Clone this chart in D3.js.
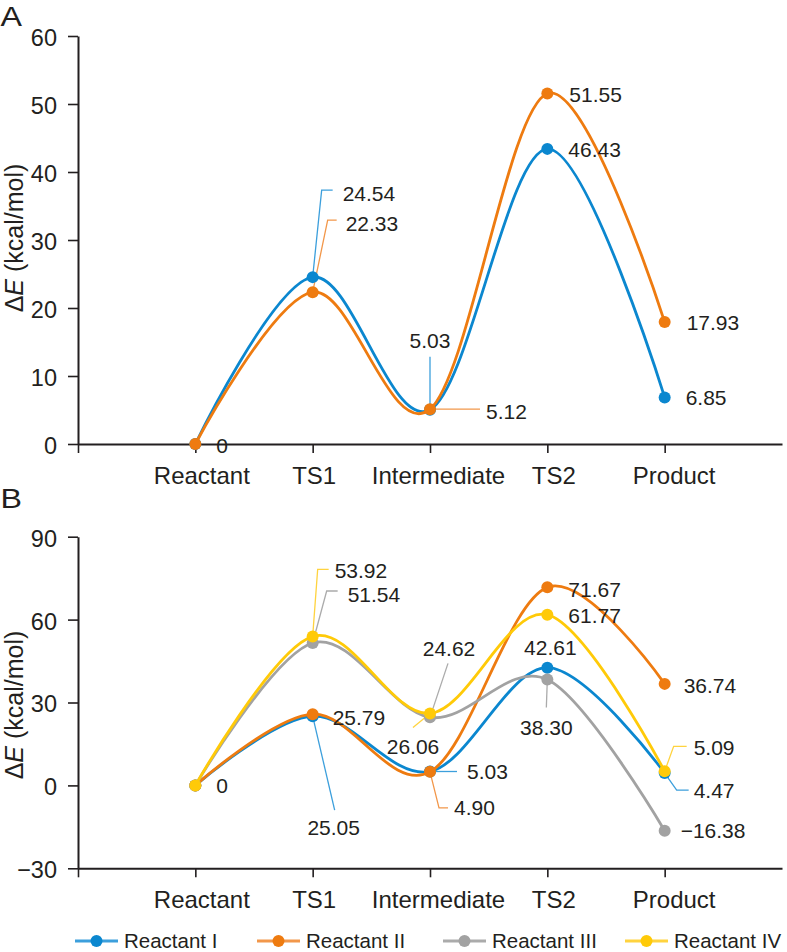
<!DOCTYPE html>
<html><head><meta charset="utf-8">
<script src="https://cdn.jsdelivr.net/npm/d3@7"></script>
<style>
body{margin:0;background:#fff}
svg{display:block}
text{font-family:"Liberation Sans",Arial,Helvetica,sans-serif;fill:#231f20}
</style>
</head><body><svg id="c" width="787" height="952"></svg>
<script>
// ---------- data ----------
const categories = ["Reactant", "TS1", "Intermediate", "TS2", "Product"];
const seriesNames = ["Reactant I", "Reactant II", "Reactant III", "Reactant IV"];

// Panel A (plotted values; printed labels below)
const aReactantI  = [0, 24.54, 5.03, 43.4, 6.85];
const aReactantII = [0, 22.33, 5.12, 51.55, 17.93];
const aLabelsI    = ["", "24.54", "5.03", "46.43", "6.85"];
const aLabelsII   = ["0", "22.33", "5.12", "51.55", "17.93"];

// Panel B
const bReactantI   = [0, 25.05, 5.03, 42.61, 4.47];
const bReactantII  = [0, 25.79, 4.90, 71.67, 36.74];
const bReactantIII = [0, 51.54, 24.62, 38.30, -16.38];
const bReactantIV  = [0, 53.92, 26.06, 61.77, 5.09];
const bLabelsI   = ["", "25.05", "5.03", "42.61", "4.47"];
const bLabelsII  = ["", "25.79", "4.90", "71.67", "36.74"];
const bLabelsIII = ["", "51.54", "24.62", "38.30", "\u221216.38"];
const bLabelsIV  = ["0", "53.92", "26.06", "61.77", "5.09"];

const yTicksA = [0, 10, 20, 30, 40, 50, 60];
const yTicksB = [-30, 0, 30, 60, 90];

// ---------- styles ----------
const colors = ["#0B87CF", "#EE7B10", "#A2A2A2", "#FFCA08"];
const lightColors = ["#3C9FDC", "#F2974A", "#ABABAB", "#FFD33F"];
const catShift = [6, 1, 8, 6, 9];

// annotation layout: offsets (px) relative to the data point
const annA = [
  {s:0, i:1, leader:[[9,-87],[20,-87]], x:30, y:-84, a:"start"},
  {s:1, i:1, leader:[[15,-72],[24,-72]], x:33, y:-69, a:"start"},
  {s:0, i:2, leader:[[0,-53]], x:0, y:-69, a:"middle"},
  {s:1, i:2, leader:[[50,0]], x:56, y:2, a:"start"},
  {s:0, i:3, x:21, y:1, a:"start"},
  {s:1, i:3, x:22, y:1, a:"start"},
  {s:1, i:4, x:22, y:0, a:"start"},
  {s:0, i:4, x:21, y:0, a:"start"},
  {s:1, i:0, x:21, y:1, a:"start"}
];
const annB = [
  {s:3, i:1, leader:[[5,-67],[16,-67]], x:22, y:-66, a:"start"},
  {s:2, i:1, leader:[[14,-52],[25,-52]], x:35, y:-49, a:"start"},
  {s:1, i:1, x:20, y:3, a:"start"},
  {s:0, i:1, leader:[[22,94]], x:21, y:111, a:"middle"},
  {s:2, i:2, leader:[[18,-54]], x:19, y:-69, a:"middle"},
  {s:3, i:2, leader:[[-17,14]], x:-17, y:33, a:"middle"},
  {s:0, i:2, leader:[[27,0]], x:37, y:0, a:"start"},
  {s:1, i:2, leader:[[9,36],[18,36]], x:24, y:36, a:"start"},
  {s:1, i:3, x:21, y:2, a:"start"},
  {s:3, i:3, x:21, y:1, a:"start"},
  {s:0, i:3, x:3, y:-20, a:"middle"},
  {s:2, i:3, leader:[[-1,28]], x:-1, y:48, a:"middle"},
  {s:1, i:4, x:19, y:2, a:"start"},
  {s:3, i:4, leader:[[9,-25],[22,-25]], x:29, y:-24, a:"start"},
  {s:0, i:4, leader:[[12,17],[24,17]], x:29, y:17, a:"start"},
  {s:2, i:4, x:16, y:0, a:"start"},
  {s:3, i:0, x:21, y:0, a:"start"}
];

const panels = [
  {letter:"A", letterBase:26, domain:[0,60], range:[444,36], ticks:yTicksA,
   series:[{v:aReactantI, l:aLabelsI, c:0},{v:aReactantII, l:aLabelsII, c:1}], ann:annA, titleY:238},
  {letter:"B", letterBase:508, domain:[-30,90], range:[868.3,536.7], ticks:yTicksB,
   series:[{v:bReactantI, l:bLabelsI, c:0},{v:bReactantII, l:bLabelsII, c:1},
           {v:bReactantIII, l:bLabelsIII, c:2},{v:bReactantIV, l:bLabelsIV, c:3}], ann:annB, titleY:705}
];

const svg = d3.select("#c");
const x = d3.scaleLinear().domain([0, 6]).range([78, 782]);
const FF = '"Liberation Sans",Arial,sans-serif';

panels.forEach(p => {
  const y = d3.scaleLinear().domain(p.domain).range(p.range);
  const g = svg.append("g");

  // panel letter
  g.append("text").attr("transform", `translate(0.5,${p.letterBase}) scale(1.15,1)`)
    .style("font-size", "28px").text(p.letter);

  // y axis
  const ya = g.append("g").attr("transform", `translate(${x(0)},0)`)
    .call(d3.axisLeft(y).tickValues(p.ticks).tickSize(10).tickSizeOuter(0)
      .tickFormat(d => d < 0 ? "\u2212" + Math.abs(d) : d));
  ya.select(".domain").attr("stroke", "#231f20").attr("stroke-width", 2);
  ya.selectAll(".tick line").attr("stroke", "#231f20").attr("stroke-width", 1.6);
  ya.selectAll(".tick text").attr("x", -21).attr("y", 1).attr("dy", "0.36em")
    .style("font-size", "23.5px").style("font-family", FF).attr("fill", "#231f20");

  // x axis
  const y0 = p.range[0];
  const xa = g.append("g").attr("transform", `translate(0,${y0})`)
    .call(d3.axisBottom(x).tickValues([0,1,2,3,4,5]).tickSize(9).tickSizeOuter(0)
      .tickFormat(d => d === 0 ? "" : categories[d-1]));
  xa.select(".domain").attr("stroke", "#231f20").attr("stroke-width", 2);
  xa.selectAll(".tick line").attr("stroke", "#231f20").attr("stroke-width", 1.6);
  xa.selectAll(".tick text").attr("y", 40).attr("dy", 0)
    .attr("x", d => d === 0 ? 0 : catShift[d-1])
    .style("font-size", "24px").style("font-family", FF).attr("fill", "#231f20");

  // y title
  const t = g.append("text").attr("transform", `translate(23,${p.titleY}) rotate(-90)`)
    .attr("text-anchor", "middle").style("font-size", "25px");
  t.append("tspan").text("\u0394");
  t.append("tspan").style("font-style", "italic").text("E");
  t.append("tspan").text(" (kcal/mol)");

  const line = d3.line().x((d,i) => x(i+1)).y(d => y(d)).curve(d3.curveCardinal.tension(0));

  // leaders (under points)
  const leadG = g.append("g");
  p.series.forEach(s => {
    g.append("path").attr("d", line(s.v)).attr("fill", "none")
      .attr("stroke", colors[s.c]).attr("stroke-width", 2.8);
    g.selectAll(null).data(s.v).enter().append("circle")
      .attr("cx", (d,i) => x(i+1)).attr("cy", d => y(d)).attr("r", 6)
      .attr("fill", colors[s.c]);
  });

  // annotations
  p.ann.forEach(a => {
    const s = p.series.find(q => q.c === a.s);
    const px = x(a.i + 1), py = y(s.v[a.i]);
    if (a.leader) {
      const pts = [[px, py]].concat(a.leader.map(o => [px + o[0], py + o[1]]));
      leadG.append("path").attr("d", d3.line()(pts)).attr("fill", "none")
        .attr("stroke", lightColors[a.s]).attr("stroke-width", 1.3);
    }
    g.append("text").attr("x", px + a.x).attr("y", py + a.y).attr("dy", "0.36em")
      .attr("text-anchor", a.a).style("font-size", "21px").text(s.l[a.i]);
  });
});

// legend
const legX = [75, 257, 443, 625];
const legY = 941;
const lg = svg.append("g");
seriesNames.forEach((n, k) => {
  const x0 = legX[k];
  lg.append("line").attr("x1", x0).attr("x2", x0 + 43).attr("y1", legY).attr("y2", legY)
    .attr("stroke", lightColors[k]).attr("stroke-width", 3);
  lg.append("circle").attr("cx", x0 + 21.5).attr("cy", legY).attr("r", 6).attr("fill", colors[k]);
  lg.append("text").attr("x", x0 + 49).attr("y", legY).attr("dy", "0.36em")
    .style("font-size", "20.5px").text(n);
});
</script>
</body></html>
